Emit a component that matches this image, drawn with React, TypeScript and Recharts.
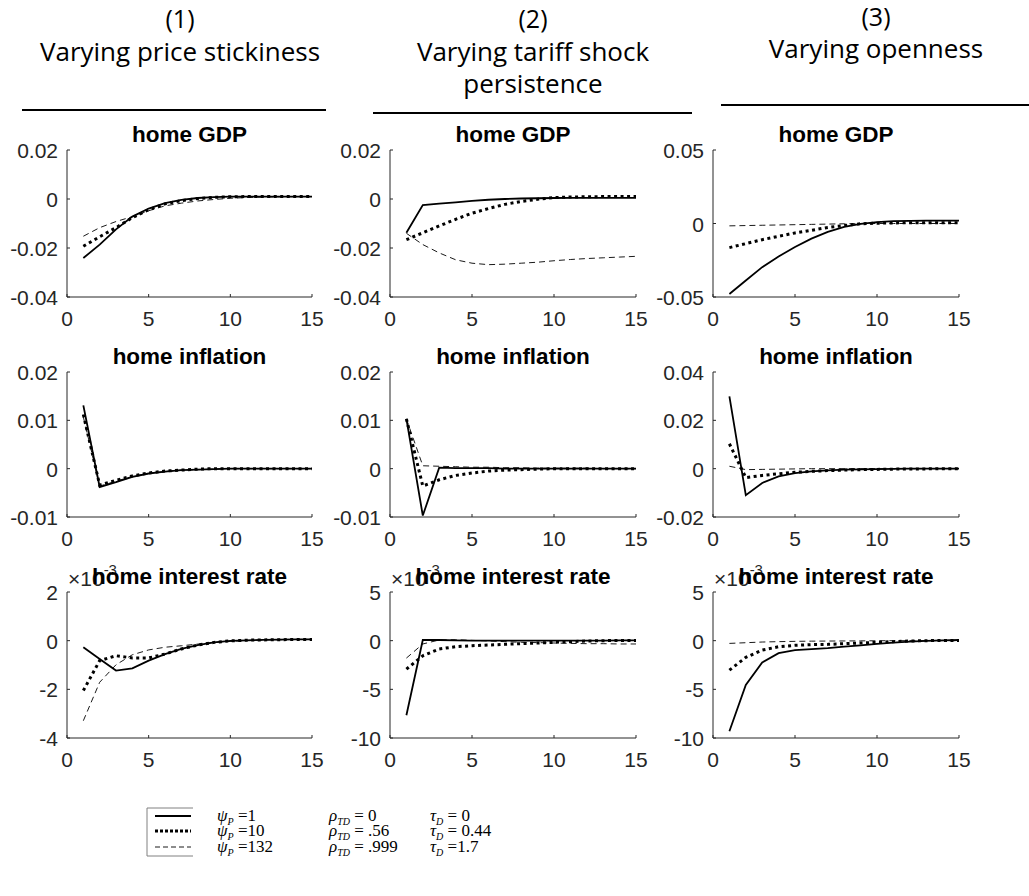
import React from "react";
import { LineChart, Line, XAxis, YAxis } from "recharts";

// ---------- data ----------
const periods = [1, 2, 3, 4, 5, 6, 7, 8, 9, 10, 11, 12, 13, 14, 15];
const xTicks = [0, 5, 10, 15];

const columnNumbers = ["(1)", "(2)", "(3)"];
const columnTitles = [["Varying price stickiness"], ["Varying tariff shock", "persistence"], ["Varying openness"]];
const rowTitles = ["home GDP", "home inflation", "home interest rate"];

// Row 1: home GDP
const gdpStickSolid = [-0.0241, -0.0186, -0.0124, -0.0072, -0.0039, -0.0017, -0.0004, 0.0004, 0.0008, 0.001, 0.001, 0.001, 0.001, 0.001, 0.001];
const gdpStickDotted = [-0.0193, -0.0154, -0.0117, -0.0076, -0.0044, -0.002, -0.0007, 0.0002, 0.0007, 0.0009, 0.001, 0.001, 0.001, 0.001, 0.001];
const gdpStickDashed = [-0.0152, -0.0117, -0.0092, -0.0072, -0.0048, -0.0028, -0.0017, -0.0008, -0.0002, 0.0003, 0.0006, 0.0008, 0.0009, 0.001, 0.001];

const gdpPersSolid = [-0.0138, -0.0025, -0.0019, -0.0014, -0.0008, -0.0003, 0.0, 0.0002, 0.0003, 0.0004, 0.0005, 0.0005, 0.0005, 0.0005, 0.0005];
const gdpPersDotted = [-0.0166, -0.0138, -0.011, -0.0083, -0.0058, -0.0039, -0.0022, -0.001, -0.0001, 0.0006, 0.0008, 0.0009, 0.001, 0.001, 0.001];
const gdpPersDashed = [-0.014, -0.0186, -0.022, -0.0248, -0.0262, -0.0268, -0.0266, -0.0262, -0.0258, -0.0252, -0.0247, -0.0243, -0.024, -0.0237, -0.0234];

const gdpOpenSolid = [-0.048, -0.0388, -0.0297, -0.0224, -0.016, -0.0103, -0.0057, -0.0023, -0.0002, 0.0009, 0.0016, 0.0018, 0.0019, 0.002, 0.002];
const gdpOpenDotted = [-0.0164, -0.0137, -0.011, -0.0087, -0.0064, -0.0046, -0.0027, -0.0014, -0.0002, 0.0002, 0.0004, 0.0005, 0.0005, 0.0005, 0.0005];
const gdpOpenDashed = [-0.0016, -0.0014, -0.0012, -0.001, -0.0008, -0.0006, -0.0004, -0.0002, -0.0001, 0, 0, 0, 0, 0, 0];

// Row 2: home inflation
const infStickSolid = [0.0131, -0.0038, -0.0028, -0.0017, -0.001, -0.0006, -0.0003, -0.0002, -0.0001, 0, 0, 0, 0, 0, 0];
const infStickDotted = [0.0112, -0.0034, -0.0024, -0.0015, -0.0009, -0.0005, -0.0003, -0.0001, 0, 0, 0, 0, 0, 0, 0];
const infStickDashed = [0.0107, -0.0036, -0.0026, -0.0016, -0.001, -0.0006, -0.0003, -0.0002, -0.0001, 0, 0, 0, 0, 0, 0];

const infPersSolid = [0.0103, -0.0097, 0.0002, 0.0001, 0.0001, 0.0001, 0, 0, 0, 0, 0, 0, 0, 0, 0];
const infPersDotted = [0.0103, -0.0036, -0.0023, -0.0014, -0.0009, -0.0005, -0.0003, -0.0002, -0.0001, 0, 0, 0, 0, 0, 0];
const infPersDashed = [0.0103, 0.0006, 0.0005, 0.0004, 0.0003, 0.0003, 0.0002, 0.0002, 0.0001, 0.0001, 0.0001, 0.0001, 0, 0, 0];

const infOpenSolid = [0.0299, -0.011, -0.0059, -0.0032, -0.0018, -0.0011, -0.0007, -0.0004, -0.0003, -0.0002, -0.0001, 0, 0, 0, 0];
const infOpenDotted = [0.0103, -0.0037, -0.0028, -0.0021, -0.0015, -0.0011, -0.0008, -0.0006, -0.0004, -0.0003, -0.0002, -0.0001, -0.0001, 0, 0];
const infOpenDashed = [0.001, -0.0004, -0.0003, -0.0002, -0.0001, 0, 0, 0, 0, 0, 0, 0, 0, 0, 0];

// Row 3: home interest rate (x 10^-3)
const rateStickSolid = [-0.27, -0.75, -1.23, -1.14, -0.82, -0.55, -0.34, -0.18, -0.07, -0.01, 0.01, 0.03, 0.04, 0.05, 0.05];
const rateStickDotted = [-2.05, -0.82, -0.62, -0.71, -0.71, -0.55, -0.34, -0.18, -0.07, -0.01, 0.02, 0.03, 0.04, 0.05, 0.05];
const rateStickDashed = [-3.29, -1.71, -0.99, -0.58, -0.38, -0.27, -0.21, -0.14, -0.07, -0.03, 0.01, 0.03, 0.04, 0.05, 0.05];

const ratePersSolid = [-7.66, 0.07, 0.07, 0.03, 0, 0, 0, 0, 0, 0, 0, 0, 0.01, 0.02, 0.03];
const ratePersDotted = [-2.93, -1.55, -0.86, -0.62, -0.52, -0.45, -0.38, -0.31, -0.24, -0.17, -0.1, -0.03, 0, 0.02, 0.03];
const ratePersDashed = [-1.79, -0.34, 0.07, 0.1, 0.03, -0.03, -0.1, -0.17, -0.2, -0.24, -0.28, -0.31, -0.31, -0.34, -0.34];

const rateOpenSolid = [-9.3, -4.55, -2.24, -1.28, -0.97, -0.86, -0.76, -0.62, -0.48, -0.34, -0.21, -0.1, -0.03, 0.03, 0.07];
const rateOpenDotted = [-3.03, -1.72, -0.97, -0.62, -0.48, -0.41, -0.38, -0.31, -0.24, -0.17, -0.1, -0.03, 0, 0.03, 0.03];
const rateOpenDashed = [-0.28, -0.21, -0.14, -0.1, -0.07, -0.05, -0.04, -0.03, -0.02, -0.01, 0, 0, 0, 0, 0];

// y axes
const yTicksGdp12 = [-0.04, -0.02, 0, 0.02];
const yTicksGdp3 = [-0.05, 0, 0.05];
const yTicksInf12 = [-0.01, 0, 0.01, 0.02];
const yTicksInf3 = [-0.02, 0, 0.02, 0.04];
const yTicksRate1 = [-4, -2, 0, 2];
const yTicksRate23 = [-10, -5, 0, 5];

// legend
const legendPsi = ["1", "10", "132"];
const legendRho = ["0", ".56", ".999"];
const legendTau = ["0", "0.44", "1.7"];

// ---------- layout ----------
const COL_X0 = [67, 390, 713];
const COL_X1 = [312, 636, 959];
const ROW_Y0 = [150, 372, 592];
const ROW_Y1 = [297, 517, 738];
const PADL = 70;
const PADR = 12;
const PADT = 10;
const PADB = 40;
const AXIS = "#262626";
const TICK_FONT = "'Liberation Sans', Arial, sans-serif";

const build = (s: number[], d: number[], ds: number[]) =>
  periods.map((t, i) => ({ t, solid: s[i], dotted: d[i], dashed: ds[i] }));

type PanelDef = { data: any[]; ticks: number[] };
const panels: PanelDef[][] = [
  [
    { data: build(gdpStickSolid, gdpStickDotted, gdpStickDashed), ticks: yTicksGdp12 },
    { data: build(gdpPersSolid, gdpPersDotted, gdpPersDashed), ticks: yTicksGdp12 },
    { data: build(gdpOpenSolid, gdpOpenDotted, gdpOpenDashed), ticks: yTicksGdp3 },
  ],
  [
    { data: build(infStickSolid, infStickDotted, infStickDashed), ticks: yTicksInf12 },
    { data: build(infPersSolid, infPersDotted, infPersDashed), ticks: yTicksInf12 },
    { data: build(infOpenSolid, infOpenDotted, infOpenDashed), ticks: yTicksInf3 },
  ],
  [
    { data: build(rateStickSolid, rateStickDotted, rateStickDashed), ticks: yTicksRate1 },
    { data: build(ratePersSolid, ratePersDotted, ratePersDashed), ticks: yTicksRate23 },
    { data: build(rateOpenSolid, rateOpenDotted, rateOpenDashed), ticks: yTicksRate23 },
  ],
];

const XTick = (props: any) => {
  const { x, y, payload } = props;
  return (
    <g>
      <line x1={x} y1={y} x2={x} y2={y - 3} stroke={AXIS} strokeWidth={1} />
      <text x={x} y={y + 29} textAnchor="middle" fontSize={21} fill={AXIS} fontFamily={TICK_FONT}>
        {String(payload.value)}
      </text>
    </g>
  );
};

const YTick = (props: any) => {
  const { x, y, payload } = props;
  return (
    <g>
      <line x1={x} y1={y} x2={x + 3} y2={y} stroke={AXIS} strokeWidth={1} />
      <text x={x - 9} y={y + 8} textAnchor="end" fontSize={21} fill={AXIS} fontFamily={TICK_FONT}>
        {String(payload.value)}
      </text>
    </g>
  );
};

function Panel({ row, col }: { row: number; col: number }) {
  const p = panels[row][col];
  const w = COL_X1[col] - COL_X0[col];
  const h = ROW_Y1[row] - ROW_Y0[row];
  const lo = p.ticks[0];
  const hi = p.ticks[p.ticks.length - 1];
  return (
    <div style={{ position: "absolute", left: COL_X0[col] - PADL, top: ROW_Y0[row] - PADT }}>
      <LineChart
        width={w + PADL + PADR}
        height={h + PADT + PADB}
        data={p.data}
        margin={{ top: PADT, right: PADR, left: 0, bottom: 0 }}
      >
        <XAxis
          dataKey="t"
          type="number"
          domain={[0, 15]}
          ticks={xTicks}
          interval={0}
          allowDataOverflow
          height={PADB}
          tickSize={0}
          tickMargin={0}
          tickLine={false}
          axisLine={{ stroke: AXIS, strokeWidth: 1 }}
          tick={<XTick />}
        />
        <YAxis
          type="number"
          domain={[lo, hi]}
          ticks={p.ticks}
          interval={0}
          allowDataOverflow
          width={PADL}
          tickSize={0}
          tickMargin={0}
          tickLine={false}
          axisLine={{ stroke: AXIS, strokeWidth: 1 }}
          tick={<YTick />}
        />
        <Line type="linear" dataKey="dashed" stroke="#000" strokeWidth={0.9} strokeDasharray="6 4" dot={false} isAnimationActive={false} />
        <Line type="linear" dataKey="dotted" stroke="#000" strokeWidth={3} strokeDasharray="3 3.5" dot={false} isAnimationActive={false} />
        <Line type="linear" dataKey="solid" stroke="#000" strokeWidth={1.8} dot={false} isAnimationActive={false} />
      </LineChart>
    </div>
  );
}

const HEAD_X = [180, 533, 876];
const HEAD_NUM_Y = [28, 28, 26];
const HEAD_TXT_Y = [61, 61, 58];
const LINE_Y = [110, 113, 105];
const LINE_X = [[22, 326], [373, 692], [721, 1029]];

const LEG_ROWS = [821, 836, 852];
const LEG_LINE_Y = [816, 831, 847];

export default function App() {
  const headFont = "'Open Sans', 'Noto Sans', sans-serif";
  const serif = "'Liberation Serif', 'Times New Roman', serif";
  return (
    <div style={{ position: "absolute", left: 0, top: 0, width: 1029, height: 896, background: "#fff", overflow: "hidden" }}>
      {[0, 1, 2].map((r) => [0, 1, 2].map((c) => <Panel key={`${r}-${c}`} row={r} col={c} />))}
      <svg width={1029} height={896} style={{ position: "absolute", left: 0, top: 0, pointerEvents: "none" }}>
        {/* column headers */}
        {columnNumbers.map((n, c) => (
          <g key={n}>
            <text x={HEAD_X[c]} y={HEAD_NUM_Y[c]} textAnchor="middle" fontSize={25} fontFamily={headFont} fill="#000">
              {n}
            </text>
            {columnTitles[c].map((t, i) => (
              <text key={t} x={HEAD_X[c]} y={HEAD_TXT_Y[c] + i * 32} textAnchor="middle" fontSize={26} fontFamily={headFont} fill="#000">
                {t}
              </text>
            ))}
            <line x1={LINE_X[c][0]} y1={LINE_Y[c]} x2={LINE_X[c][1]} y2={LINE_Y[c]} stroke="#000" strokeWidth={2} />
          </g>
        ))}
        {/* x10^-3 exponent labels */}
        {[0, 1, 2].map((c) => (
          <text key={`e${c}`} x={COL_X0[c] + 1} y={ROW_Y0[2] - 6} fontSize={21} fill={AXIS} fontFamily={TICK_FONT}>
            ×10
            <tspan fontSize={15} dy={-11}>-3</tspan>
          </text>
        ))}
        {/* panel titles */}
        {[0, 1, 2].map((r) =>
          [0, 1, 2].map((c) => (
            <text
              key={`t${r}${c}`}
              x={(COL_X0[c] + COL_X1[c]) / 2}
              y={ROW_Y0[r] - 8}
              textAnchor="middle"
              fontSize={22.5}
              fontWeight="bold"
              fontFamily={TICK_FONT}
              fill="#000"
            >
              {rowTitles[r]}
            </text>
          ))
        )}
        {/* legend */}
        <g>
          <line x1={147} y1={808} x2={193} y2={808} stroke="#808080" strokeWidth={1} />
          <line x1={147} y1={856} x2={193} y2={856} stroke="#808080" strokeWidth={1} />
          <line x1={147} y1={808} x2={147} y2={856} stroke="#808080" strokeWidth={1} />
          <line x1={155} y1={LEG_LINE_Y[0]} x2={191} y2={LEG_LINE_Y[0]} stroke="#000" strokeWidth={1.8} />
          <line x1={155} y1={LEG_LINE_Y[1]} x2={191} y2={LEG_LINE_Y[1]} stroke="#000" strokeWidth={3} strokeDasharray="3 2" />
          <line x1={155} y1={LEG_LINE_Y[2]} x2={191} y2={LEG_LINE_Y[2]} stroke="#000" strokeWidth={0.9} strokeDasharray="5 3" />
          {LEG_ROWS.map((y, i) => (
            <g key={`l${i}`} fontFamily={serif} fontSize={17} fill="#000">
              <text x={217} y={y}>
                <tspan fontStyle="italic">ψ</tspan>
                <tspan fontStyle="italic" fontSize={10} dy={4}>P</tspan>
                <tspan dy={-4}>{" =" + legendPsi[i]}</tspan>
              </text>
              <text x={329} y={y}>
                <tspan fontStyle="italic">ρ</tspan>
                <tspan fontStyle="italic" fontSize={10} dy={4}>TD</tspan>
                <tspan dy={-4}>{" = " + legendRho[i]}</tspan>
              </text>
              <text x={430} y={y}>
                <tspan fontStyle="italic">τ</tspan>
                <tspan fontStyle="italic" fontSize={10} dy={4}>D</tspan>
                <tspan dy={-4}>{(i === 2 ? " =" : " = ") + legendTau[i]}</tspan>
              </text>
            </g>
          ))}
        </g>
      </svg>
    </div>
  );
}
